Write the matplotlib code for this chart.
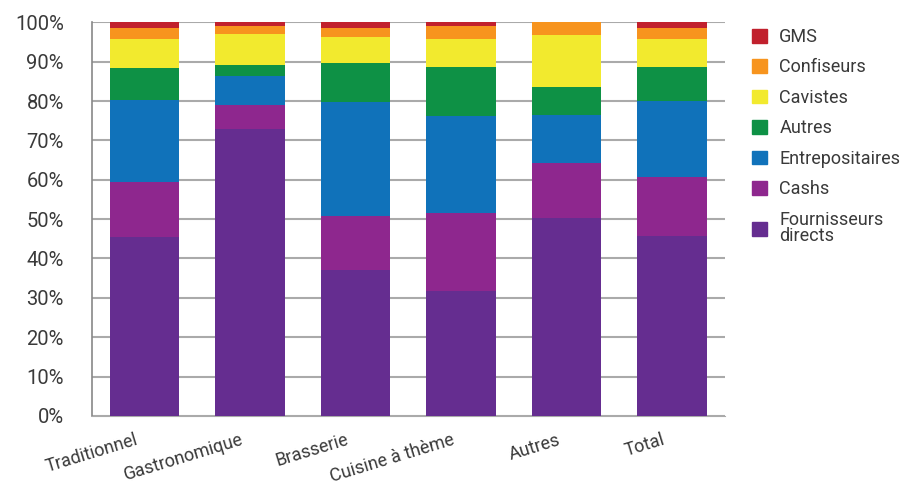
import matplotlib
matplotlib.use("Agg")
import matplotlib.pyplot as plt
import matplotlib.transforms as mtransforms
import numpy as np
from matplotlib.patches import Patch

categories = ["Traditionnel", "Gastronomique", "Brasserie", "Cuisine à thème", "Autres", "Total"]
fournisseurs = [45.4, 72.8, 37.1, 31.7, 50.3, 45.7]
cashs = [14.0, 6.1, 13.8, 19.8, 13.9, 15.0]
entrepositaires = [20.9, 7.5, 28.9, 24.6, 12.2, 19.2]
autres = [8.0, 2.9, 10.0, 12.5, 7.1, 8.7]
cavistes = [7.6, 7.7, 6.4, 7.3, 13.2, 7.3]
confiseurs = [2.6, 2.2, 2.3, 3.3, 3.3, 2.8]
gms = [1.5, 0.8, 1.5, 0.8, 0.0, 1.3]

series_names = ["Fournisseurs\ndirects", "Cashs", "Entrepositaires", "Autres", "Cavistes", "Confiseurs", "GMS"]
series_vals = [fournisseurs, cashs, entrepositaires, autres, cavistes, confiseurs, gms]
colors = ["#652D90", "#8E278E", "#1072BA", "#0E9145", "#F2EA2E", "#F7941E", "#C1202D"]

plt.rcParams['font.family'] = ['Roboto', 'DejaVu Sans']
txt_color = "#3a3a3a"

fig = plt.figure(figsize=(9.08, 4.87), dpi=100)
ax = fig.add_axes([0.101, 0.146, 0.697, 0.808])

x = np.arange(len(categories))
bottom = np.zeros(len(categories))
for name, vals, c in zip(series_names, series_vals, colors):
    v = np.array(vals)
    ax.bar(x, v, bottom=bottom, width=0.66, color=c, zorder=3, label=name)
    bottom += v

ax.set_xlim(-0.5, 5.5)
ax.set_ylim(0, 100)
ax.set_yticks(np.arange(0, 101, 10))
ax.set_yticklabels([f"{t}%" for t in range(0, 101, 10)], fontsize=14.5, color=txt_color)
ax.yaxis.grid(True, color="#aaaaaa", lw=1.5, zorder=0)
ax.set_axisbelow(True)
for s in ["top", "right"]:
    ax.spines[s].set_visible(False)
ax.spines["left"].set_color("#888888")
ax.spines["bottom"].set_color("#aaaaaa")
ax.spines["left"].set_linewidth(1.2)
ax.tick_params(axis="y", length=0, pad=20)
ax.tick_params(axis="x", length=0, pad=17)
ax.set_xticks(x)
ax.set_xticklabels(categories, rotation=17, ha="right", va="center", rotation_mode="anchor",
                   fontsize=13, color=txt_color)
offset = mtransforms.ScaledTranslation(-7 / 100, 0, fig.dpi_scale_trans)
for lab in ax.get_xticklabels():
    lab.set_transform(lab.get_transform() + offset)

handles = [Patch(color=c, label=n) for n, c in zip(series_names, colors)][::-1]
leg = fig.legend(handles=handles, loc="upper left", bbox_to_anchor=(0.8106, 0.976), frameon=False,
                 fontsize=13, handlelength=0.8, handleheight=0.8, handletextpad=0.7, labelspacing=0.69,
                 labelcolor=txt_color)
for t in leg.get_texts():
    t.set_linespacing(0.9)

fig.savefig("out.png", dpi=100)
